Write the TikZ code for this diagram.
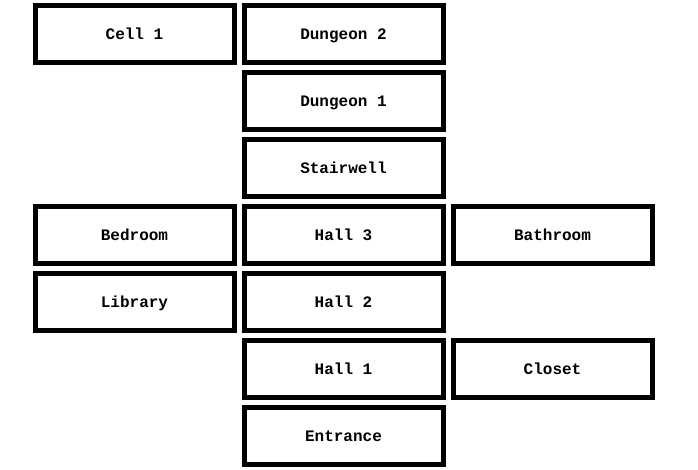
\documentclass[tikz,border=0pt]{standalone}
\usepackage{fontspec}
\setmonofont{Liberation Mono}
\usetikzlibrary{positioning}
\tikzset{
  room/.style={
    draw=black, line width=5pt,
    fill=white,
    minimum width=199pt,
    minimum height=57pt,
    inner sep=0pt,
    text height=13pt, text depth=2pt,
    font=\fontsize{16}{16}\selectfont\ttfamily\bfseries
  }
}

\begin{document}
\begin{tikzpicture}[node distance=5pt and 5pt]
  \useasboundingbox (0pt,0pt) rectangle (698pt,-469pt);
  % centre column
  \node[room] (dungeon2) at (343.5pt,-34pt) {Dungeon 2};
  \node[room, below=of dungeon2] (dungeon1) {Dungeon 1};
  \node[room, below=of dungeon1] (stairwell) {Stairwell};
  \node[room, below=of stairwell] (hall3) {Hall 3};
  \node[room, below=of hall3] (hall2) {Hall 2};
  \node[room, below=of hall2] (hall1) {Hall 1};
  \node[room, below=of hall1] (entrance) {Entrance};
  % side rooms
  \node[room, left=of dungeon2] (cell1) {Cell 1};
  \node[room, left=of hall3] (bedroom) {Bedroom};
  \node[room, left=of hall2] (library) {Library};
  \node[room, right=of hall3] (bathroom) {Bathroom};
  \node[room, right=of hall1] (closet) {Closet};
\end{tikzpicture}
\end{document}
